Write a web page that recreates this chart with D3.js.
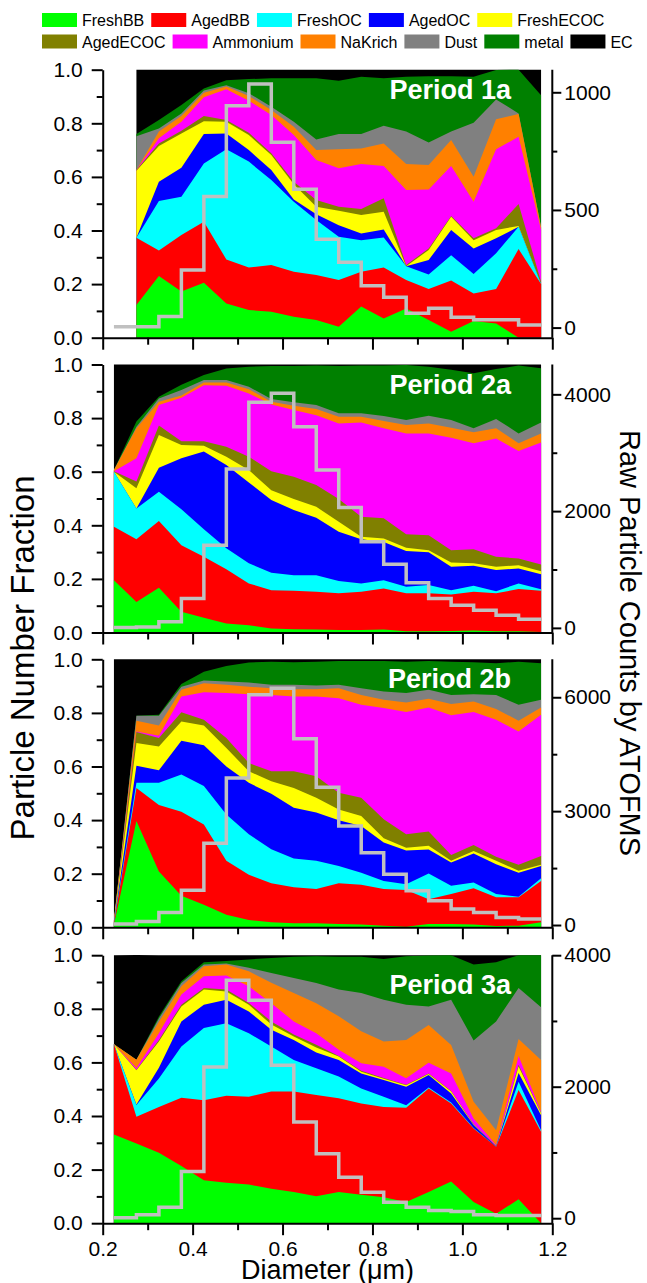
<!DOCTYPE html>
<html><head><meta charset="utf-8">
<script src="https://cdn.jsdelivr.net/npm/d3@7/dist/d3.min.js"></script>
<style>
body{margin:0;background:#fff}
text{font-family:"Liberation Sans",Arial,sans-serif;fill:#000}
</style>
</head><body>
<svg id="chart" width="647" height="1283"></svg>
<script>
// ---------------- DATA ----------------
const diameters = [0.225,0.275,0.325,0.375,0.425,0.475,0.525,0.575,0.625,0.675,0.725,0.775,0.825,0.875,0.925,0.975,1.025,1.075,1.125,1.175];
const diameters1a = [0.275,0.325,0.375,0.425,0.475,0.525,0.575,0.625,0.675,0.725,0.775,0.825,0.875,0.925,0.975,1.025,1.075,1.125,1.175];
const categories = ["FreshBB","AgedBB","FreshOC","AgedOC","FreshECOC","AgedECOC","Ammonium","NaKrich","Dust","metal","EC"];
const periodNames = ["Period 1a","Period 2a","Period 2b","Period 3a"];
const xTicks = [0.2,0.4,0.6,0.8,1.0,1.2];
const fractionTicks = [0,0.2,0.4,0.6,0.8,1.0];
const countTicks1a = [0,500,1000];
const countTicks2a = [0,2000,4000];
const countTicks2b = [0,3000,6000];
const countTicks3a = [0,2000,4000];

// fractions, one row per category (order as in categories)
const period1a_fractions = [
 [.122,.230,.172,.205,.128,.103,.097,.078,.066,.041,.116,.072,.109,.066,.022,.062,.053,0,0],
 [.251,.095,.211,.228,.164,.159,.174,.168,.168,.174,.130,.190,.106,.116,.191,.103,.129,.331,.200],
 [0,.185,.143,.217,.411,.395,.317,.261,.205,.162,.118,.112,.052,.054,.095,.073,.133,.083,0],
 [0,.072,.108,.110,.059,.043,.038,.009,.022,.043,.025,.030,0,.054,.094,.095,.056,0,0],
 [.250,.133,.128,.048,.044,.056,.056,.057,.028,.054,.069,.066,0,.037,.049,.031,.031,.003,0],
 [.003,.010,.010,.019,.006,.009,.006,.009,.025,.015,.022,.050,.004,.006,.003,.007,.006,.082,.009],
 [0,.019,.034,.070,.115,.119,.143,.174,.149,.143,.168,.121,.280,.220,.187,.136,.295,.251,.193],
 [0,.025,.021,.017,.010,.018,.019,.031,.037,.071,.058,.084,.097,.091,.097,.094,.112,.085,.010],
 [.126,.012,.010,.008,.005,.010,.012,.019,.040,.057,.054,.066,.121,.084,.031,.201,.074,.002,.002],
 [.008,.031,.031,.008,.019,.053,.106,.162,.228,.199,.214,.177,.205,.248,.207,.172,.110,.163,.491],
 [.240,.188,.132,.070,.039,.035,.032,.032,.032,.041,.026,.032,.026,.024,.024,.026,.001,0,.095]
];
const period2a_fractions = [
 [.195,.114,.167,.077,.055,.034,.027,.015,.012,.011,.009,.009,.011,.005,.005,.006,.007,.005,.005,.002],
 [.200,.234,.249,.249,.228,.202,.156,.143,.144,.141,.137,.143,.153,.141,.141,.136,.145,.141,.157,.154],
 [.205,.115,.109,.134,.102,.078,.075,.065,.058,.062,.046,.031,.031,.025,.031,.016,.022,.008,.021,.005],
 [0,0,.090,.190,.290,.311,.302,.271,.243,.214,.184,.165,.143,.133,.122,.087,.075,.079,.056,.056],
 [0,.075,.122,.050,.022,.031,.046,.037,.041,.041,.037,.009,.013,.012,.008,.016,.009,.012,.012,.012],
 [.002,.025,.035,.014,.017,.037,.050,.071,.083,.081,.085,.075,.075,.051,.056,.046,.053,.038,.025,.025],
 [0,.087,.077,.162,.209,.228,.236,.249,.249,.261,.282,.352,.336,.376,.380,.420,.395,.441,.401,.455],
 [.004,.112,.012,.008,.010,.012,.016,.010,.016,.023,.025,.021,.027,.031,.037,.037,.041,.038,.029,.034],
 [0,.006,.012,.021,.009,.009,.009,.010,.013,.015,.013,.013,.019,.019,.029,.029,.015,.035,.037,.041],
 [0,.019,.007,.019,.019,.043,.075,.123,.135,.147,.176,.178,.188,.205,.183,.187,.205,.186,.253,.202],
 [.394,.213,.120,.076,.039,.015,.008,.006,.006,.004,.006,.004,.004,.002,.008,.020,.033,.017,.004,.014]
];
const period2b_fractions = [
 [.010,.397,.208,.118,.084,.047,.027,.019,.015,.015,.012,.010,.006,.002,.012,.012,.010,.005,.006,.019],
 [.005,.123,.248,.313,.300,.201,.169,.145,.134,.128,.152,.149,.137,.137,.093,.112,.136,.107,.106,.154],
 [.003,.019,.083,.139,.143,.173,.151,.127,.108,.105,.065,.045,.030,.022,.096,.031,.021,.012,.002,.010],
 [.002,.064,.047,.126,.152,.179,.192,.207,.189,.180,.170,.174,.143,.126,.089,.087,.108,.111,.090,.046],
 [.002,.085,.089,.072,.074,.069,.043,.047,.074,.055,.041,.037,.016,.010,.014,.006,.010,.013,.007,.004],
 [.001,.041,.031,.034,.021,.037,.031,.037,.062,.081,.062,.068,.071,.050,.053,.022,.022,.015,.022,.033],
 [.001,.002,.009,.059,.103,.168,.257,.285,.279,.297,.353,.347,.415,.456,.463,.521,.496,.511,.498,.527],
 [.001,.040,.038,.025,.034,.031,.028,.025,.027,.027,.037,.037,.031,.036,.033,.042,.040,.041,.040,.027],
 [0,.018,.036,.012,.010,.012,.015,.013,.017,.014,.013,.025,.031,.035,.033,.034,.027,.052,.059,.029],
 [0,0,.004,.010,.033,.058,.075,.086,.084,.089,.089,.102,.114,.117,.108,.124,.119,.118,.161,.136],
 [.975,.211,.207,.092,.046,.025,.012,.009,.011,.009,.006,.006,.006,.009,.006,.009,.011,.015,.009,.015]
];
const period3a_fractions = [
 [.331,.297,.263,.213,.160,.151,.144,.129,.116,.101,.116,.106,.097,.079,.116,.156,.079,.035,.089,0],
 [.337,.100,.171,.255,.299,.325,.328,.362,.375,.377,.350,.341,.337,.352,.387,.291,.274,.250,.408,.341],
 [0,.044,.106,.191,.269,.270,.237,.168,.118,.100,.081,.056,.038,.009,.003,.003,.002,0,.031,.006],
 [0,.002,.040,.094,.087,.088,.081,.063,.075,.059,.062,.056,.062,.069,.047,.034,.011,.002,.032,.056],
 [0,.128,.098,.056,.057,.031,.025,.019,.013,.019,.013,.006,.005,.006,.004,.007,.002,0,.025,.007],
 [0,.002,.006,.006,.006,.007,.007,.012,.007,.010,.002,.004,.003,.002,.002,.002,.002,0,.006,.002],
 [0,.006,.025,.038,.043,.052,.062,.068,.049,.043,.023,.028,.042,.024,.040,.066,.021,.004,.033,.004],
 [0,.031,.043,.031,.038,.041,.056,.076,.106,.112,.125,.119,.094,.143,.141,.106,.062,.056,.063,.193],
 [0,0,.012,.012,.006,.004,.013,.037,.056,.075,.100,.143,.156,.131,.069,.169,.229,.406,.191,.197],
 [0,0,.007,.007,.009,.009,.031,.056,.079,.100,.122,.135,.152,.181,.190,.166,.283,.221,.122,.194],
 [.332,.391,.229,.097,.026,.022,.016,.010,.006,.004,.006,.006,.014,.004,.001,0,.035,.026,0,0]
];
// raw particle counts (step line, right axis)
const period1a_counts = [4,4,47,245,557,943,1035,788,588,375,278,178,129,61,82,44,33,33,11,11];
const period2a_counts = [5,17,103,503,1417,2720,3863,4017,3446,2703,2063,1474,1091,771,503,389,303,217,149,149];
const period2b_counts = [26,96,332,919,2152,3876,6063,6238,4908,3631,2607,1907,1339,901,639,420,332,201,157,157];
const period3a_counts = [5,51,168,711,2299,3619,3315,2325,1462,980,624,396,244,168,117,102,51,41,41,41];

// ---------------- STYLE / LAYOUT ----------------
const colors = ["#00ff00","#ff0000","#00ffff","#0000ff","#ffff00","#808000","#ff00ff","#ff8000","#808080","#008000","#000000"];
const X0 = 102.7, X1 = 552.3, PH = 268;
const panelTops = [69.7, 364.5, 659.3, 955.2];
const labelOffsets = [29, 29, 29, 39];
const rightDomains = [[-43,1096],[-79,4511],[-60,7000],[-76,4000]];

const panels = [
  {name: periodNames[0], x: diameters1a, f: period1a_fractions, counts: period1a_counts, ticks: countTicks1a},
  {name: periodNames[1], x: diameters, f: period2a_fractions, counts: period2a_counts, ticks: countTicks2a},
  {name: periodNames[2], x: diameters, f: period2b_fractions, counts: period2b_counts, ticks: countTicks2b},
  {name: periodNames[3], x: diameters, f: period3a_fractions, counts: period3a_counts, ticks: countTicks3a}
];

const svg = d3.select("#chart");
const x = d3.scaleLinear().domain([0.2,1.2]).range([X0,X1]);

function styleAxis(g, fs){
  g.selectAll("path.domain").attr("stroke","#000").attr("stroke-width",2);
  g.selectAll(".tick line").attr("stroke","#000").attr("stroke-width",2);
  g.selectAll(".tick text").style("font-size",fs+"px").style("font-family",'"Liberation Sans",Arial,sans-serif').attr("fill","#000");
}

panels.forEach((p, pi) => {
  const top = panelTops[pi], bottom = top + PH;
  const y = d3.scaleLinear().domain([0,1]).range([bottom, top]);
  const yR = d3.scaleLinear().domain(rightDomains[pi]).range([bottom, top]);
  const g = svg.append("g");

  // stacked areas
  const rows = p.x.map((d,i) => {
    const o = {diameter: d};
    categories.forEach((c,ci) => o[c] = p.f[ci][i]);
    return o;
  });
  const series = d3.stack().keys(categories)(rows);
  // draw from top layer down, each from baseline, to avoid seams
  for (let k = series.length - 1; k >= 0; k--) {
    const area = d3.area()
      .x(d => x(d.data.diameter))
      .y0(() => y(0))
      .y1(d => y(d[1]));
    g.append("path").datum(series[k]).attr("d", area).attr("fill", colors[k]).attr("stroke","none");
  }

  // step line of counts
  const line = d3.line().x((d,i) => x(diameters[i])).y(d => yR(d)).curve(d3.curveStepAfter);
  g.append("path").datum(p.counts).attr("d", line)
    .attr("fill","none").attr("stroke","#c0c0c0").attr("stroke-width",3.5).attr("stroke-linejoin","miter");

  // period label
  g.append("text").attr("x", 511).attr("y", top + labelOffsets[pi])
    .attr("text-anchor","end").style("font-size","27px").style("font-weight","bold").style("fill","#fff")
    .text(p.name);

  // left axis
  const la = g.append("g").attr("transform",`translate(${X0},0)`)
    .call(d3.axisLeft(y).tickValues(fractionTicks).tickFormat(d3.format(".1f")).tickSize(11).tickSizeOuter(0).tickPadding(9));
  styleAxis(la, 21);
  const lm = g.append("g").attr("transform",`translate(${X0},0)`)
    .call(d3.axisLeft(y).tickValues([0.1,0.3,0.5,0.7,0.9]).tickFormat("").tickSize(6).tickSizeOuter(0));
  styleAxis(lm, 21); lm.select("path.domain").remove();

  // right axis
  const step = p.ticks[1] - p.ticks[0];
  const ra = g.append("g").attr("transform",`translate(${X1},0)`)
    .call(d3.axisRight(yR).tickValues(p.ticks).tickFormat(d3.format("d")).tickSize(9).tickSizeOuter(0).tickPadding(3));
  styleAxis(ra, 21);
  ra.select("path.domain").attr("d", `M0,${top}V${bottom}`);
  const rm = g.append("g").attr("transform",`translate(${X1},0)`)
    .call(d3.axisRight(yR).tickValues(p.ticks.slice(0,-1).map(t => t + step/2)).tickFormat("").tickSize(5).tickSizeOuter(0));
  styleAxis(rm, 21); rm.select("path.domain").remove();

  // bottom axis
  const ba = g.append("g").attr("transform",`translate(0,${bottom})`)
    .call(d3.axisBottom(x).tickValues(xTicks).tickFormat(pi === 3 ? d3.format(".1f") : "").tickSize(12).tickSizeOuter(0).tickPadding(6));
  styleAxis(ba, 21);
  const bm = g.append("g").attr("transform",`translate(0,${bottom})`)
    .call(d3.axisBottom(x).tickValues([0.3,0.5,0.7,0.9,1.1]).tickFormat("").tickSize(7).tickSizeOuter(0));
  styleAxis(bm, 21); bm.select("path.domain").remove();
});

// axis titles
svg.append("text").attr("transform","translate(34,658) rotate(-90)").attr("text-anchor","middle")
  .style("font-size","33px").text("Particle Number Fraction");
svg.append("text").attr("transform","translate(620,643) rotate(90)").attr("text-anchor","middle")
  .style("font-size","29px").text("Raw Particle Counts by ATOFMS");
svg.append("text").attr("x", (X0+X1)/2).attr("y", 1279).attr("text-anchor","middle")
  .style("font-size","27px").text("Diameter (\u03bcm)");

// legend
const legendRows = [categories.slice(0,5), categories.slice(5)];
legendRows.forEach((row, ri) => {
  let cx = 42;
  const yTop = 13 + ri * 21.5;
  row.forEach(c => {
    const ci = categories.indexOf(c);
    svg.append("rect").attr("x", cx).attr("y", yTop).attr("width", 35).attr("height", 14).attr("fill", colors[ci]);
    const t = svg.append("text").attr("x", cx + 40).attr("y", yTop + 13).style("font-size","16px").text(c);
    cx += 40 + t.node().getComputedTextLength() + 7;
  });
});
</script>
</body></html>
